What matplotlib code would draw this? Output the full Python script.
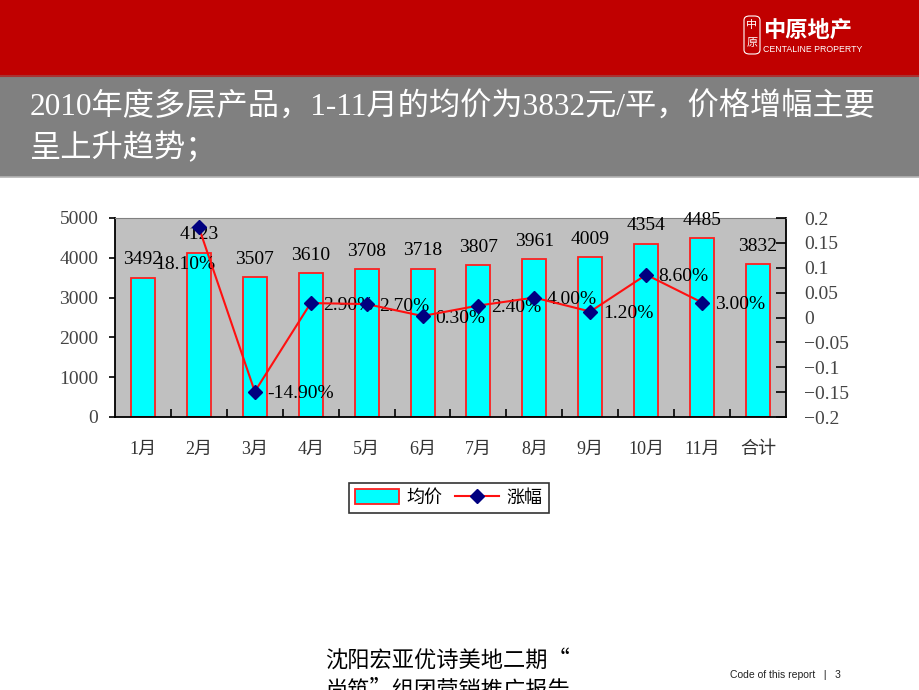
import numpy as np
import matplotlib.pyplot as plt
from matplotlib.patches import Rectangle, FancyBboxPatch
from matplotlib.lines import Line2D
from matplotlib.ticker import FuncFormatter

plt.rcParams['font.family'] = ['Liberation Serif', 'Noto Sans CJK SC']

months = ['1月', '2月', '3月', '4月', '5月', '6月', '7月', '8月', '9月', '10月', '11月', '合计']
avg_price = [3492, 4123, 3507, 3610, 3708, 3718, 3807, 3961, 4009, 4354, 4485, 3832]
# growth rate, 2月 .. 11月
growth = [0.181, -0.149, 0.029, 0.027, 0.003, 0.024, 0.040, 0.012, 0.086, 0.030]
growth_labels = ['18.10%', '-14.90%', '2.90%', '2.70%', '0.30%', '2.40%', '4.00%', '1.20%', '8.60%', '3.00%']

title_line1 = '2010年度多层产品，1-11月的均价为3832元/平，价格增幅主要'
title_line2 = '呈上升趋势；'

fig = plt.figure(figsize=(9.2, 6.9), dpi=100)
W, H = 920, 690

def fx(px):
    return px / W

def fy(py):
    return 1 - py / H

def fmt_right(v, p):
    v = round(v, 2)
    if abs(v) < 1e-9:
        return '0'
    return f'{v:g}'.replace('-', '\u2212')

# header bands
fig.patches.append(Rectangle((0, fy(75)), 1, 75 / H, transform=fig.transFigure,
                             facecolor='#C00000', edgecolor='none', zorder=0))
fig.patches.append(Rectangle((0, fy(177)), 1, 102 / H, transform=fig.transFigure,
                             facecolor='#808080', edgecolor='none', zorder=0))
fig.add_artist(Line2D([0, 1], [fy(76), fy(76)], transform=fig.transFigure, color='#A83232', lw=1.5))
fig.add_artist(Line2D([0, 1], [fy(177), fy(177)], transform=fig.transFigure, color='#B4B4B4', lw=1.2))

# logo
fig.patches.append(FancyBboxPatch((fx(744), fy(54)), 16 / W, 38 / H, transform=fig.transFigure,
                                  boxstyle='round,pad=0,rounding_size=0.006',
                                  facecolor='none', edgecolor='white', lw=0.8))
fig.text(fx(752), fy(25), '中', color='white', fontsize=8, ha='center', va='center', family='Noto Sans CJK SC')
fig.text(fx(752), fy(43), '原', color='white', fontsize=8, ha='center', va='center', family='Noto Sans CJK SC')
fig.text(fx(763), fy(30), '中原地产', color='white', fontsize=16, fontweight='bold',
         ha='left', va='center', family='Noto Sans CJK SC')
fig.text(fx(763), fy(50), 'CENTALINE PROPERTY', color='white', fontsize=6.3,
         ha='left', va='center', family='Liberation Sans')

# title
fig.text(fx(30), fy(108), title_line1, color='white', fontsize=22.5, ha='left', va='center',
         family=['Liberation Serif', 'Noto Sans CJK SC'])
fig.text(fx(30), fy(148), title_line2, color='white', fontsize=22.5, ha='left', va='center',
         family=['Liberation Serif', 'Noto Sans CJK SC'])

# chart
ax = fig.add_axes([fx(115), fy(417), fx(786) - fx(115), (417 - 218) / H])
ax.set_facecolor('#C0C0C0')
x = np.arange(len(months))
bars = ax.bar(x, avg_price, width=0.43, color='#00FFFF', edgecolor='#FF2020', linewidth=1.3, zorder=2)
ax.set_xlim(-0.5, len(months) - 0.5)
ax.set_ylim(0, 5000)
ax.set_yticks(np.arange(0, 5001, 1000))
ax.set_xticks(x)
ax.set_xticklabels(months)
ax.set_xticks(np.arange(0.5, len(months) - 1, 1), minor=True)
ax.tick_params(axis='x', which='major', length=0, pad=17, labelsize=13, labelcolor='#333333')
ax.tick_params(axis='x', which='minor', direction='in', length=6, width=1.2, color='black')
ax.tick_params(axis='y', direction='out', length=4, width=1.2, pad=8, labelsize=14, labelcolor='#444444')
for s in ['left', 'bottom', 'right']:
    ax.spines[s].set_color('black')
    ax.spines[s].set_linewidth(1.3)
ax.spines['top'].set_color('#808080')

for xi, v in zip(x, avg_price):
    ax.annotate(str(v), (xi, v), xytext=(0, 7), textcoords='offset points',
                ha='center', va='bottom', fontsize=14, color='black', zorder=5)

ax2 = ax.twinx()
ax2.set_ylim(-0.2, 0.2)
ax2.set_yticks(np.arange(-0.2, 0.2001, 0.05))
ax2.yaxis.set_major_formatter(FuncFormatter(fmt_right))
ax2.tick_params(axis='y', direction='in', length=7, width=1.2, pad=13, labelsize=14, labelcolor='#444444')
for s in ['left', 'bottom', 'right', 'top']:
    ax2.spines[s].set_visible(False)

gx = x[1:11]
ax2.plot(gx, growth, color='#FF1010', lw=1.5, marker='D', markersize=7,
         markerfacecolor='#000080', markeredgecolor='#000080', zorder=4)
for xi, v, lab in zip(gx, growth, growth_labels):
    if lab == '18.10%':
        ax2.annotate(lab, (xi, v), xytext=(-10, -27), textcoords='offset points',
                     ha='center', va='center', fontsize=14)
    else:
        ax2.annotate(lab, (xi, v), xytext=(9, -1.5), textcoords='offset points',
                     ha='left', va='center', fontsize=14)

# legend
handles = [Rectangle((0, 0), 1, 1, facecolor='#00FFFF', edgecolor='#FF2020', lw=1.3),
           Line2D([], [], color='#FF1010', lw=1.5, marker='D', markersize=7,
                  markerfacecolor='#000080', markeredgecolor='#000080')]
leg = fig.legend(handles, ['均价', '涨幅'], loc='center', bbox_to_anchor=(fx(449), fy(498)),
                 ncol=2, frameon=True, fancybox=False, edgecolor='black',
                 handlelength=2.4, handleheight=0.9, columnspacing=0.7, handletextpad=0.45,
                 borderpad=0.35, prop={'family': ['Noto Sans CJK SC'], 'size': 13})
leg.get_frame().set_linewidth(1.2)

# footer
fig.text(fx(325), fy(660), '沈阳宏亚优诗美地二期“', fontsize=16, ha='left', va='center',
         family='Noto Sans CJK SC')
fig.text(fx(325), fy(690), '尚筑”组团营销推广报告', fontsize=16, ha='left', va='center',
         family='Noto Sans CJK SC')
fig.text(fx(730), fy(675), 'Code of this report   |   3', fontsize=7.5, ha='left', va='center',
         family='Liberation Sans', color='#222222')

plt.savefig('out.png', dpi=100)
